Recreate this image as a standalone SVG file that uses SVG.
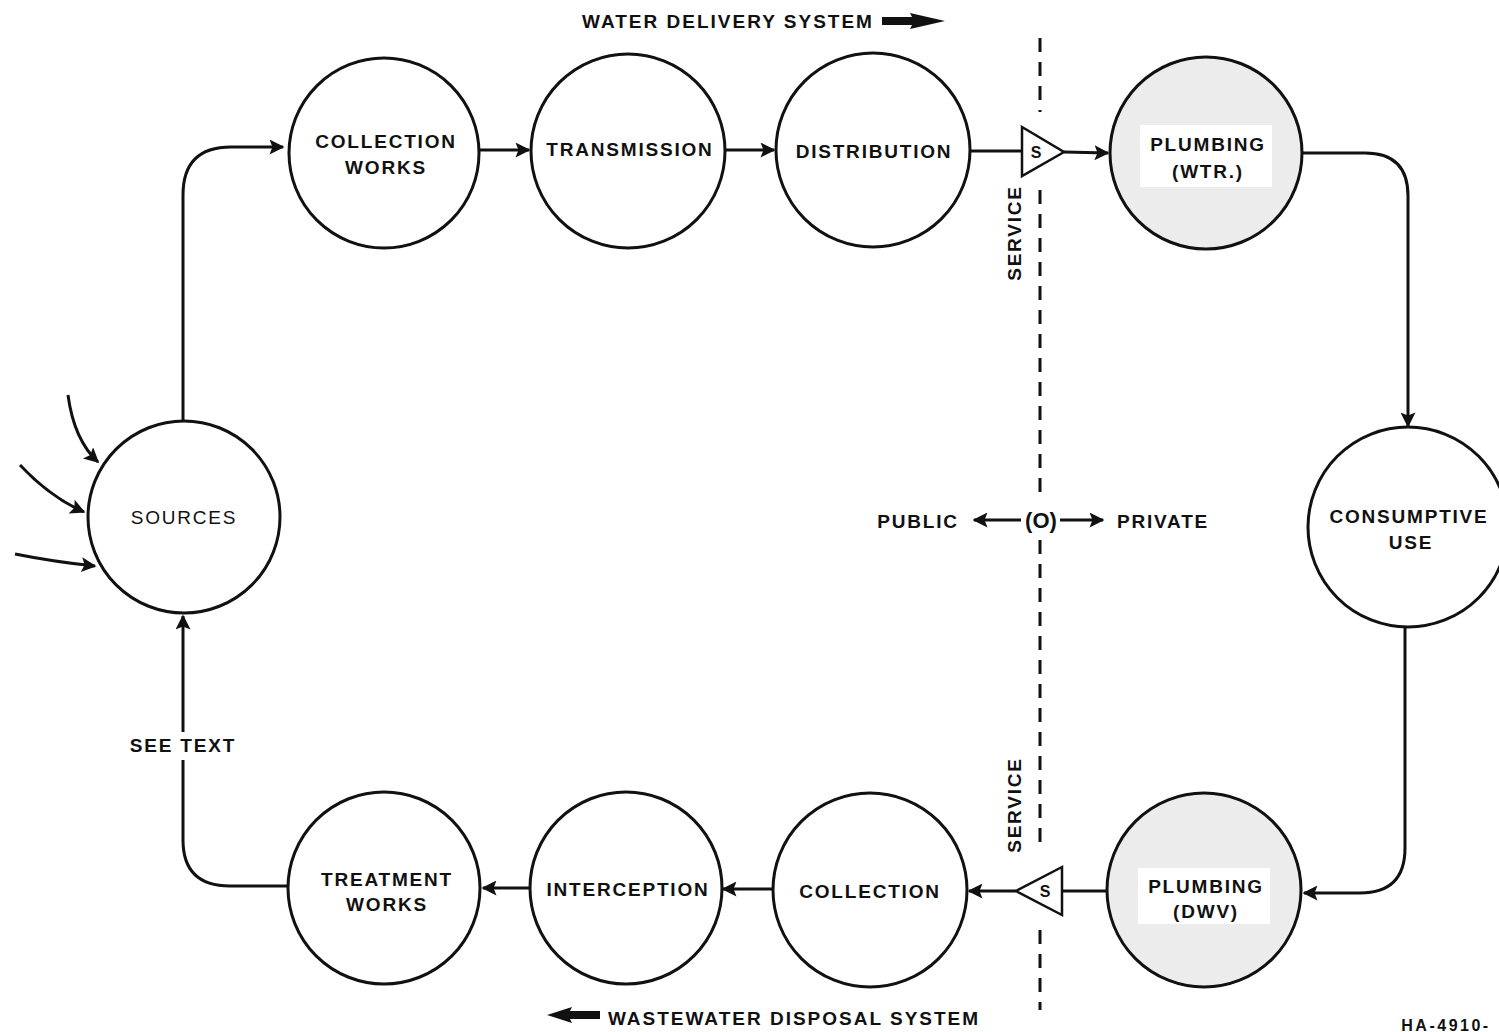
<svg xmlns="http://www.w3.org/2000/svg" width="1499" height="1032" viewBox="0 0 1499 1032">
  <style>
    .node { fill: #fff; stroke: #111; stroke-width: 3; }
    .shaded { fill: #ececec; }
    .lbl { font-family: "Liberation Sans", Arial, sans-serif; font-weight: bold; font-size: 19px; letter-spacing: 1.8px; fill: #111; text-anchor: middle; }
    .thin { font-weight: normal; }
    .wire { fill: none; stroke: #111; stroke-width: 3; }
    .tri { fill: #fff; stroke: #111; stroke-width: 2.5; }
    .boundary { fill: none; stroke: #111; stroke-width: 3; stroke-dasharray: 14 10; }
  </style>
  <defs>
    <marker id="arrow" viewBox="0 0 10 10" refX="9" refY="5" markerWidth="6" markerHeight="5" markerUnits="strokeWidth" orient="auto">
      <path d="M0 0 L10 5 L0 10 L2 5 Z" fill="#111"/>
    </marker>
  </defs>
  <rect width="1499" height="1032" fill="#fff"/>

  <!-- public / private boundary, broken at the service points and the (O) mark -->
  <g id="boundary">
    <line class="boundary" x1="1040" y1="38" x2="1040" y2="112"/>
    <line class="boundary" x1="1040" y1="190" x2="1040" y2="502"/>
    <line class="boundary" x1="1040" y1="540" x2="1040" y2="852"/>
    <line class="boundary" x1="1040" y1="930" x2="1040" y2="1010"/>
  </g>

  <g id="connectors">
    <path class="wire" d="M183 420 V195 Q183 147 231 147 H283" marker-end="url(#arrow)"/>
    <line class="wire" x1="480" y1="150" x2="529" y2="150" marker-end="url(#arrow)"/>
    <line class="wire" x1="725" y1="150" x2="774" y2="150" marker-end="url(#arrow)"/>
    <line class="wire" x1="970" y1="151" x2="1022" y2="151"/>
    <line class="wire" x1="1064" y1="152" x2="1108" y2="153" marker-end="url(#arrow)"/>
    <path class="wire" d="M1302 153 H1365 Q1408 153 1408 196 V426" marker-end="url(#arrow)"/>
    <path class="wire" d="M1405 620 V848 Q1405 893 1360 893 H1304" marker-end="url(#arrow)"/>
    <line class="wire" x1="1108" y1="891" x2="1062" y2="891"/>
    <line class="wire" x1="1016" y1="891" x2="969" y2="891" marker-end="url(#arrow)"/>
    <line class="wire" x1="773" y1="889" x2="723" y2="889" marker-end="url(#arrow)"/>
    <line class="wire" x1="530" y1="888" x2="483" y2="888" marker-end="url(#arrow)"/>
    <path class="wire" d="M288 886 H230 Q183 886 183 840 V760"/>
    <path class="wire" d="M183 732 V616" marker-end="url(#arrow)"/>
    <!-- inflows to sources -->
    <path class="wire" d="M68 395 Q74 440 98 462" marker-end="url(#arrow)"/>
    <path class="wire" d="M20 465 Q50 497 84 512" marker-end="url(#arrow)"/>
    <path class="wire" d="M15 554 Q55 562 95 566" marker-end="url(#arrow)"/>
    <!-- public/private indicator -->
    <line class="wire" x1="1021" y1="520" x2="974" y2="520" marker-end="url(#arrow)"/>
    <line class="wire" x1="1060" y1="520" x2="1103" y2="520" marker-end="url(#arrow)"/>
  </g>

  <!-- service triangles -->
  <g id="service-in">
    <path class="tri" d="M1022 127 L1064 152 L1022 176 Z"/>
    <text class="lbl" x="1036" y="158" style="font-size:16px;letter-spacing:0">S</text>
  </g>
  <g id="service-out">
    <path class="tri" d="M1062 867 L1016 891 L1062 915 Z"/>
    <text class="lbl" x="1045" y="897" style="font-size:16px;letter-spacing:0">S</text>
  </g>

  <g id="sources">
    <circle class="node" cx="184" cy="517" r="96"/>
    <text class="lbl thin" x="184" y="524">SOURCES</text>
  </g>
  <g id="collection-works">
    <circle class="node" cx="384" cy="153" r="95"/>
    <text class="lbl" x="386" y="148">COLLECTION</text>
    <text class="lbl" x="386" y="174">WORKS</text>
  </g>
  <g id="transmission">
    <circle class="node" cx="628" cy="151" r="97"/>
    <text class="lbl" x="630" y="156">TRANSMISSION</text>
  </g>
  <g id="distribution">
    <circle class="node" cx="873" cy="150" r="97"/>
    <text class="lbl" x="874" y="158">DISTRIBUTION</text>
  </g>
  <g id="plumbing-wtr">
    <circle class="node shaded" cx="1206" cy="153" r="96"/>
    <rect x="1140" y="125" width="132" height="62" fill="#fff"/>
    <text class="lbl" x="1208" y="151">PLUMBING</text>
    <text class="lbl" x="1208" y="178">(WTR.)</text>
  </g>
  <g id="consumptive-use">
    <circle class="node" cx="1408" cy="527" r="100"/>
    <text class="lbl" x="1409" y="523">CONSUMPTIVE</text>
    <text class="lbl" x="1411" y="549">USE</text>
  </g>
  <g id="plumbing-dwv">
    <circle class="node shaded" cx="1204" cy="890" r="97"/>
    <rect x="1138" y="868" width="132" height="56" fill="#fff"/>
    <text class="lbl" x="1206" y="893">PLUMBING</text>
    <text class="lbl" x="1206" y="918">(DWV)</text>
  </g>
  <g id="collection">
    <circle class="node" cx="870" cy="890" r="97"/>
    <text class="lbl" x="870" y="898">COLLECTION</text>
  </g>
  <g id="interception">
    <circle class="node" cx="626" cy="888" r="96"/>
    <text class="lbl" x="628" y="896">INTERCEPTION</text>
  </g>
  <g id="treatment-works">
    <circle class="node" cx="384" cy="888" r="96"/>
    <text class="lbl" x="387" y="886">TREATMENT</text>
    <text class="lbl" x="387" y="911">WORKS</text>
  </g>

  <!-- annotations -->
  <text class="lbl" x="728" y="28" style="letter-spacing:2px">WATER DELIVERY SYSTEM</text>
  <path d="M882 17 H912 L910 13 L945 21 L910 29 L912 25 H882 Z" fill="#111"/>
  <text class="lbl" x="794" y="1025" style="letter-spacing:2px">WASTEWATER DISPOSAL SYSTEM</text>
  <path d="M600 1011 H570 L572 1007 L547 1015 L572 1023 L570 1019 H600 Z" fill="#111"/>
  <text class="lbl" transform="translate(1021 233) rotate(-90)">SERVICE</text>
  <text class="lbl" transform="translate(1021 805) rotate(-90)">SERVICE</text>
  <text class="lbl" x="918" y="528">PUBLIC</text>
  <text class="lbl" x="1041" y="528" style="font-size:22px;letter-spacing:0">(O)</text>
  <text class="lbl" x="1163" y="528">PRIVATE</text>
  <rect x="120" y="733" width="122" height="26" fill="#fff"/>
  <text class="lbl" x="183" y="752">SEE TEXT</text>
  <text class="lbl" x="1446" y="1031" style="font-size:16px;letter-spacing:2.5px">HA-4910-</text>
</svg>
